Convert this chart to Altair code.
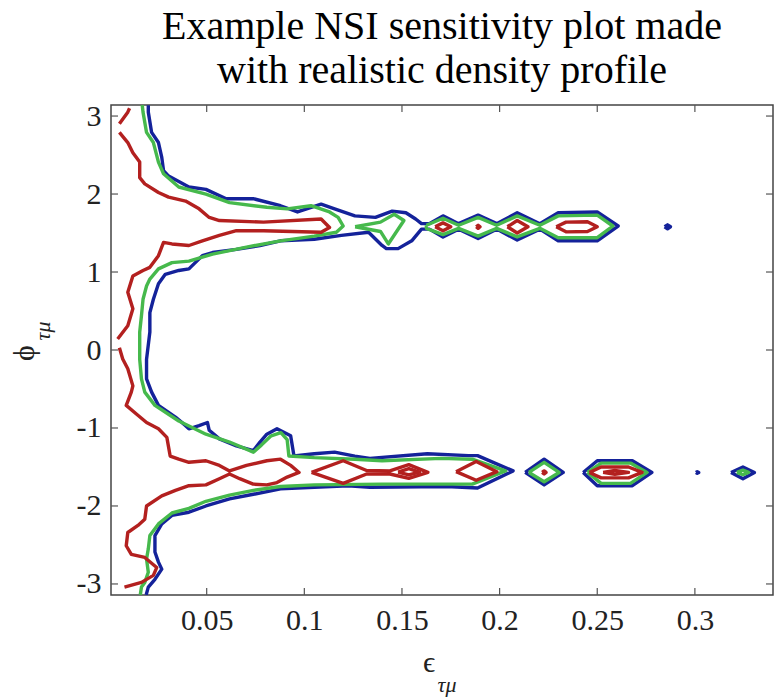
import altair as alt
import pandas as pd

# ---------------- data ----------------
X_TICKS = [0.05, 0.1, 0.15, 0.2, 0.25, 0.3]
Y_TICKS = [-3, -2, -1, 0, 1, 2, 3]
X_DOMAIN = [0.001, 0.34]
Y_DOMAIN = [-3.1416, 3.1416]

# blue (outer) contour level
BLUE_MAIN = [(0.0201,3.14),(0.0201,3.05),(0.0218,2.79),(0.0253,2.66),(0.0270,2.47),(0.0279,2.30),(0.0305,2.23),
    (0.0409,2.09),(0.0496,2.06),(0.0600,1.94),(0.0739,1.94),(0.0878,1.85),(0.0965,1.77),(0.1086,1.87),(0.1155,1.81),
    (0.1259,1.72),(0.1364,1.70),(0.145,1.78),(0.152,1.76),(0.157,1.68),(0.160,1.62),(0.164,1.62),(0.171,1.72),
    (0.179,1.62),(0.189,1.73),(0.1985,1.62),(0.209,1.76),(0.2206,1.62),(0.230,1.76),(0.250,1.77),(0.2607,1.59),
    (0.250,1.40),(0.230,1.40),(0.2206,1.55),(0.209,1.41),(0.1985,1.55),(0.189,1.43),(0.179,1.55),(0.171,1.45),
    (0.164,1.55),(0.160,1.55),(0.155,1.40),(0.148,1.30),(0.142,1.30),(0.1398,1.34),(0.1329,1.51),(0.1190,1.47),
    (0.1051,1.42),(0.0878,1.40),(0.0773,1.34),(0.0652,1.29),(0.0530,1.25),(0.0478,1.21),(0.0409,1.04),(0.0357,1.02),
    (0.0288,0.97),(0.0253,0.85),(0.0227,0.65),(0.0209,0.48),(0.0209,0.23),(0.0192,-0.12),(0.0192,-0.37),(0.0218,-0.54),
    (0.0253,-0.71),(0.0340,-0.86),(0.0392,-0.97),(0.0409,-1.01),(0.0461,-0.97),(0.0504,-0.93),(0.0513,-1.03),
    (0.0565,-1.14),(0.0652,-1.23),(0.0739,-1.29),(0.0773,-1.18),(0.0808,-1.08),(0.0860,-1.01),(0.0930,-1.10),
    (0.0947,-1.36),(0.1051,-1.33),(0.1155,-1.31),(0.1259,-1.36),(0.1336,-1.39),(0.163,-1.33),(0.184,-1.355),
    (0.1887,-1.355),(0.2069,-1.55),(0.1887,-1.77),(0.173,-1.75),(0.1336,-1.76),(0.1225,-1.74),(0.1051,-1.76),
    (0.0878,-1.78),(0.0739,-1.85),(0.0617,-1.91),(0.0496,-2.00),(0.0409,-2.08),(0.0322,-2.12),(0.0270,-2.23),
    (0.0235,-2.38),(0.0235,-2.59),(0.0253,-2.72),(0.0270,-2.81),(0.0235,-2.94),(0.0201,-3.04),(0.0190,-3.14)]
BLUE_UP_RING = [(0.2845,1.58),(0.286,1.605),(0.2875,1.58),(0.286,1.555)]
BLUE_LOW_D1 = [(0.2131,-1.57),(0.2228,-1.40),(0.2326,-1.57),(0.2228,-1.73)]
BLUE_LOW_D2 = [(0.2428,-1.57),(0.250,-1.42),(0.268,-1.42),(0.278,-1.57),(0.268,-1.74),(0.250,-1.74)]
BLUE_LOW_DOT = [(0.3005,-1.57),(0.3012,-1.56),(0.302,-1.57),(0.3012,-1.58)]
BLUE_LOW_D3 = [(0.3185,-1.57),(0.3246,-1.50),(0.3305,-1.57),(0.3246,-1.65)]

# green (middle) contour level
GREEN_MAIN = [(0.0170,3.14),(0.0174,3.05),(0.0192,2.79),(0.0227,2.66),(0.0253,2.41),(0.0279,2.26),(0.0357,2.09),
    (0.0496,2.00),(0.0617,1.89),(0.0808,1.83),(0.0912,1.81),(0.1034,1.85),(0.1129,1.77),(0.1173,1.70),(0.1199,1.59),
    (0.1164,1.51),(0.1051,1.46),(0.0878,1.40),(0.0704,1.32),(0.0530,1.23),(0.0409,1.14),(0.0322,1.12),(0.0253,1.04),
    (0.0209,0.91),(0.0192,0.82),(0.0174,0.65),(0.0166,0.44),(0.0157,0.23),(0.0157,-0.12),(0.0166,-0.37),(0.0183,-0.54),
    (0.0235,-0.71),(0.0357,-0.91),(0.0496,-1.08),(0.0617,-1.18),(0.0739,-1.31),(0.0780,-1.22),(0.0830,-1.10),
    (0.0880,-1.06),(0.0912,-1.15),(0.0921,-1.36),(0.1051,-1.38),(0.1259,-1.40),(0.1398,-1.42),(0.170,-1.39),
    (0.186,-1.40),(0.203,-1.55),(0.186,-1.72),(0.170,-1.72),(0.1398,-1.72),(0.1051,-1.73),(0.0878,-1.75),
    (0.0739,-1.80),(0.0617,-1.86),(0.0496,-1.94),(0.0409,-2.03),(0.0322,-2.09),(0.0253,-2.23),(0.0209,-2.38),
    (0.0201,-2.55),(0.0192,-2.68),(0.0201,-2.85),(0.0183,-2.98),(0.0166,-3.04),(0.0160,-3.14)]
GREEN_UP_D0 = [(0.126,1.58),(0.139,1.64),(0.146,1.74),(0.151,1.66),(0.143,1.36),(0.139,1.52)]
GREEN_UP_CHAIN = [(0.1625,1.60),(0.171,1.69),(0.179,1.60),(0.189,1.70),(0.1985,1.60),(0.209,1.72),(0.2206,1.60),
    (0.230,1.72),(0.250,1.73),(0.258,1.59),(0.250,1.44),(0.230,1.44),(0.2206,1.56),(0.209,1.45),(0.1985,1.56),
    (0.189,1.46),(0.179,1.56),(0.171,1.48),(0.1625,1.56)]
GREEN_LOW_D1 = [(0.215,-1.57),(0.2228,-1.44),(0.2305,-1.57),(0.2228,-1.69)]
GREEN_LOW_D2 = [(0.245,-1.57),(0.252,-1.45),(0.267,-1.45),(0.2755,-1.57),(0.267,-1.71),(0.252,-1.71)]
GREEN_LOW_D3 = [(0.3215,-1.57),(0.3246,-1.54),(0.3275,-1.57),(0.3246,-1.60)]

# red (inner) contour level
RED_A = [(0.0105,3.10),(0.0096,3.05),(0.0053,2.90)]
RED_B = [(0.0053,2.79),(0.0096,2.66),(0.0122,2.53),(0.0157,2.41),(0.0157,2.21),(0.0183,2.13),(0.0253,2.02),
    (0.0305,1.96),(0.0392,1.91),(0.0461,1.81),(0.0513,1.70),(0.0565,1.66),(0.0791,1.64),(0.1086,1.68),(0.1129,1.57),
    (0.1086,1.51),(0.0791,1.53),(0.0652,1.53),(0.0565,1.47),(0.0478,1.40),(0.0409,1.34),(0.0322,1.36),(0.0279,1.38),
    (0.0253,1.21),(0.0209,1.06),(0.0174,1.02),(0.0122,0.95),(0.0096,0.74),(0.0122,0.53),(0.0096,0.31),(0.0044,0.14)]
RED_C = [(0.0053,0.03),(0.0070,-0.115),(0.0096,-0.24),(0.0122,-0.46),(0.0114,-0.54),(0.0088,-0.71),(0.0140,-0.82),
    (0.0192,-0.93),(0.0253,-1.01),(0.0296,-1.12),(0.0313,-1.36),(0.0357,-1.40),(0.0409,-1.44),(0.0496,-1.42),
    (0.0565,-1.48),(0.0617,-1.55),(0.0704,-1.48),(0.0808,-1.42),(0.0878,-1.40),(0.0930,-1.48),(0.0973,-1.57),
    (0.0912,-1.63),(0.0860,-1.70),(0.0808,-1.73),(0.0738,-1.72),(0.0669,-1.65),(0.0617,-1.59),(0.0565,-1.65),
    (0.0496,-1.73),(0.0409,-1.74),(0.0340,-1.80),(0.0270,-1.87),(0.0192,-2.00),(0.0183,-2.17),(0.0148,-2.25),
    (0.0096,-2.34),(0.0088,-2.51),(0.0114,-2.62),(0.0183,-2.66),(0.0244,-2.79),(0.0227,-2.89),(0.0166,-2.98),
    (0.0079,-3.04)]
RED_UP_D1 = [(0.167,1.58),(0.171,1.63),(0.175,1.58),(0.171,1.53)]
RED_UP_DOT = [(0.188,1.58),(0.189,1.60),(0.190,1.58),(0.189,1.56)]
RED_UP_D3 = [(0.204,1.58),(0.209,1.66),(0.2145,1.58),(0.209,1.50)]
RED_UP_RING = [(0.229,1.58),(0.234,1.64),(0.245,1.645),(0.250,1.58),(0.245,1.52),(0.234,1.515)]
RED_LOW_CHAIN = [(0.1037,-1.57),(0.1199,-1.42),(0.1319,-1.545),(0.1438,-1.55),(0.1535,-1.47),(0.1633,-1.57),
    (0.1535,-1.645),(0.1438,-1.59),(0.1319,-1.59),(0.1199,-1.71)]
RED_LOW_HOLE = [(0.148,-1.565),(0.1535,-1.52),(0.159,-1.565),(0.1535,-1.60)]
RED_LOW_D2 = [(0.1777,-1.56),(0.188,-1.43),(0.1986,-1.56),(0.188,-1.67)]
RED_LOW_DOT = [(0.2218,-1.57),(0.2228,-1.55),(0.2238,-1.57),(0.2228,-1.59)]
RED_LOW_RING = [(0.246,-1.57),(0.252,-1.50),(0.266,-1.50),(0.273,-1.57),(0.266,-1.64),(0.252,-1.64)]
RED_LOW_INNER = [(0.253,-1.57),(0.259,-1.545),(0.266,-1.57),(0.259,-1.595)]

TITLE = ["Example NSI sensitivity plot made", "with realistic density profile"]

CONTOURS = [
    ("blue", BLUE_MAIN, False), ("blue", BLUE_UP_RING, True), ("blue", BLUE_LOW_D1, True),
    ("blue", BLUE_LOW_D2, True), ("blue", BLUE_LOW_DOT, True), ("blue", BLUE_LOW_D3, True),
    ("green", GREEN_MAIN, False), ("green", GREEN_UP_D0, True), ("green", GREEN_UP_CHAIN, True),
    ("green", GREEN_LOW_D1, True), ("green", GREEN_LOW_D2, True), ("green", GREEN_LOW_D3, True),
    ("red", RED_A, False), ("red", RED_B, False), ("red", RED_C, False), ("red", RED_UP_D1, True),
    ("red", RED_UP_DOT, True), ("red", RED_UP_D3, True), ("red", RED_UP_RING, True),
    ("red", RED_LOW_CHAIN, True), ("red", RED_LOW_HOLE, True), ("red", RED_LOW_D2, True),
    ("red", RED_LOW_DOT, True), ("red", RED_LOW_INNER, True), ("red", RED_LOW_RING, True),
]
COLORS = {"blue": "#14229a", "green": "#46b94c", "red": "#b3201f"}

rows = []
for k, (lvl, pts, closed) in enumerate(CONTOURS):
    seq = list(pts) + ([pts[0]] if closed else [])
    for i, (x, y) in enumerate(seq):
        rows.append({"x": x, "y": y, "level": lvl, "seg": k, "i": i})
df = pd.DataFrame(rows)

W, H = 662, 490
FONT = "Liberation Serif"
xs = alt.Scale(domain=X_DOMAIN, nice=False, zero=False)
ys = alt.Scale(domain=Y_DOMAIN, nice=False, zero=False)

AX = dict(labelFont=FONT, labelFontSize=30, labelColor="#222222", domain=False, ticks=False,
          grid=False, labelPadding=10, title=None)
x_axis = alt.Axis(values=X_TICKS, labelExpr="'' + datum.value", **AX)
y_axis = alt.Axis(values=Y_TICKS, labelExpr="datum.value < 0 ? '-' + abs(datum.value) : '' + datum.value", **AX)


def layer(lvl):
    return alt.Chart(df).transform_filter(alt.datum.level == lvl).mark_line(
        strokeWidth=3.4, clip=True, color=COLORS[lvl], strokeJoin="round"
    ).encode(
        x=alt.X("x:Q", scale=xs, axis=x_axis),
        y=alt.Y("y:Q", scale=ys, axis=y_axis),
        detail="seg:N",
        order="i:Q",
    )


tx = pd.DataFrame({"x": X_TICKS})
ty = pd.DataFrame({"y": Y_TICKS})
TL = 7
tick_style = dict(color="#555555", strokeWidth=1.2)
xt_bot = alt.Chart(tx).mark_rule(**tick_style).encode(x=alt.X("x:Q", scale=xs, axis=x_axis), y=alt.value(H), y2=alt.value(H - TL))
xt_top = alt.Chart(tx).mark_rule(**tick_style).encode(x=alt.X("x:Q", scale=xs, axis=x_axis), y=alt.value(0), y2=alt.value(TL))
yt_l = alt.Chart(ty).mark_rule(**tick_style).encode(y=alt.Y("y:Q", scale=ys, axis=y_axis), x=alt.value(0), x2=alt.value(TL))
yt_r = alt.Chart(ty).mark_rule(**tick_style).encode(y=alt.Y("y:Q", scale=ys, axis=y_axis), x=alt.value(W), x2=alt.value(W - TL))

lab = pd.DataFrame({"main_x": ["ϵ"], "sub": ["τμ"], "main_y": ["ϕ"]})
txt = dict(font=FONT, color="#222222", baseline="middle", align="center")
eps = alt.Chart(lab).mark_text(fontSize=30, **txt).encode(x=alt.value(318), y=alt.value(558), text="main_x:N")
eps_sub = alt.Chart(lab).mark_text(fontSize=22, fontStyle="italic", **txt).encode(x=alt.value(336), y=alt.value(580), text="sub:N")
phi = alt.Chart(lab).mark_text(fontSize=30, angle=270, **txt).encode(x=alt.value(-86), y=alt.value(248), text="main_y:N")
phi_sub = alt.Chart(lab).mark_text(fontSize=22, fontStyle="italic", angle=270, **txt).encode(x=alt.value(-68), y=alt.value(226), text="sub:N")

chart = alt.layer(
    layer("blue"), layer("green"), layer("red"),
    xt_bot, xt_top, yt_l, yt_r, eps, eps_sub, phi, phi_sub,
).properties(
    width=W, height=H, background="white",
    title=alt.TitleParams(TITLE, font=FONT, fontSize=40, fontWeight="normal", color="black",
                          anchor="middle", lineHeight=44, offset=10),
    autosize=alt.AutoSizeParams(type="none"),
    padding={"left": 111, "top": 105, "right": 2, "bottom": 105},
).configure_view(stroke="#444444", strokeWidth=1.5)

chart.save("out.html", embed_options={"renderer": "svg", "actions": False})
